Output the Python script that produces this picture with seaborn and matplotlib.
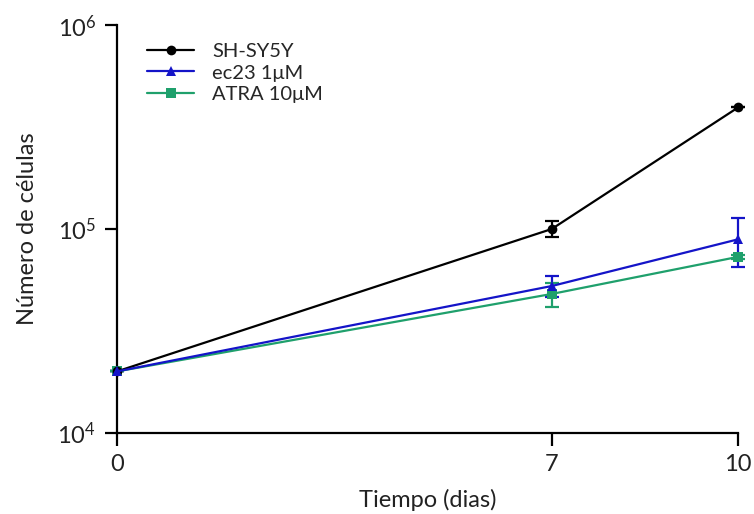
import seaborn as sns
import matplotlib.pyplot as plt
import pandas as pd
from matplotlib.lines import Line2D

days = [0, 7, 10]
groups = ['SH-SY5Y', 'ec23 1\u03bcM', 'ATRA 10\u03bcM']
sh_mean = [2.0e4, 1.0e5, 3.95e5]
sh_err = [0, 0.09e5, 0]
ec23_mean = [2.0e4, 5.25e4, 8.9e4]
ec23_err = [0, 0.62e4, 2.4e4]
atra_mean = [2.0e4, 4.8e4, 7.3e4]
atra_err = [0, 0.65e4, 0.15e4]

colors = ['black', '#1414c8', '#1fa06c']
markers = ['o', '^', 's']

sns.set_style('ticks')
plt.rcParams['font.family'] = ['Lato', 'DejaVu Sans']
plt.rcParams['mathtext.fontset'] = 'custom'
plt.rcParams['mathtext.rm'] = 'Lato'
plt.rcParams['mathtext.default'] = 'regular'

rows = []
for g, m in zip(groups, [sh_mean, ec23_mean, atra_mean]):
    for d, v in zip(days, m):
        rows.append({'dia': d, 'celulas': v, 'grupo': g})
df = pd.DataFrame(rows)

fig = plt.figure(figsize=(7.54, 5.14), dpi=100)
ax = fig.add_axes([0.155, 0.158, 0.824, 0.793])

# green drawn first, blue on top (as in the original)
order = [groups[2], groups[0], groups[1]]
sns.lineplot(data=df, x='dia', y='celulas', hue='grupo', style='grupo',
             hue_order=order, style_order=order,
             markers=dict(zip(groups, markers)), dashes=False,
             palette=dict(zip(groups, colors)), linewidth=1.6,
             markersize=7, markeredgewidth=0, ax=ax, legend=False, zorder=3,
             clip_on=False)

for m, e, c in zip([sh_mean, ec23_mean, atra_mean], [sh_err, ec23_err, atra_err], colors):
    ax.errorbar(days, m, yerr=e, fmt='none', ecolor=c, elinewidth=1.6,
                capsize=5, capthick=1.6, zorder=2, clip_on=False)

ax.set_yscale('log')
ax.set_xlim(0, 10)
ax.set_ylim(1e4, 1e6)
ax.set_xticks(days)
ax.set_yticks([1e4, 1e5, 1e6])
ax.minorticks_off()
ax.tick_params(axis='both', labelsize=17, width=1.6, length=9, pad=6,
               colors='black', labelcolor='#222222')
ax.set_xlabel('Tiempo (dias)', fontsize=17, labelpad=10, color='#222222')
ax.set_ylabel('Número de células', fontsize=17, labelpad=14, color='#222222')
for s in ['left', 'bottom']:
    ax.spines[s].set_linewidth(1.6)
    ax.spines[s].set_color('black')
sns.despine(ax=ax)

handles = [Line2D([0], [0], color=c, marker=mk, lw=1.6, markersize=7,
                  markeredgewidth=0) for c, mk in zip(colors, markers)]
ax.legend(handles, groups, loc='upper left', bbox_to_anchor=(0.02, 1.0),
          frameon=False, fontsize=14.5, handlelength=2.3, handletextpad=0.9,
          labelspacing=0.2)

fig.savefig('out.png', dpi=100)
